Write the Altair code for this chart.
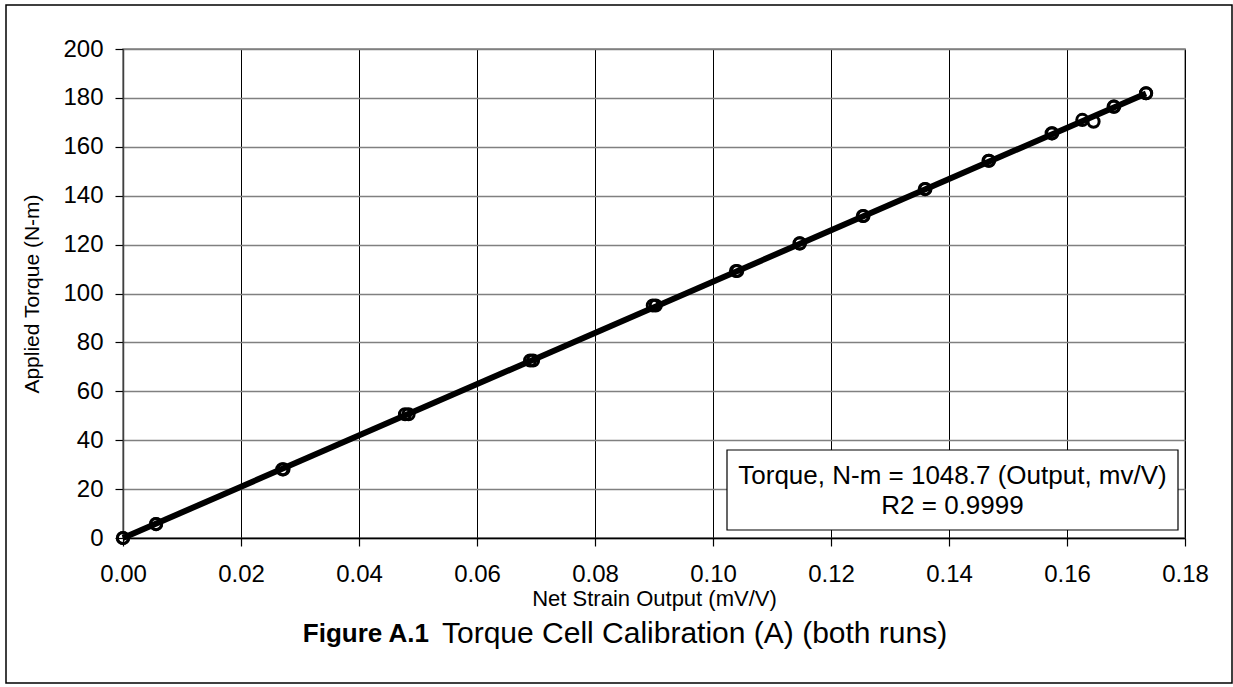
import altair as alt
import pandas as pd

# Run A (net strain output mV/V, applied torque N-m)
run_a_x = [0.0, 0.0056, 0.0270, 0.0478, 0.0690, 0.0898, 0.1039, 0.1147, 0.1254, 0.1359, 0.1467, 0.1574, 0.1626, 0.1679, 0.1734]
run_a_y = [0.0, 5.7, 28.1, 50.6, 72.6, 95.1, 109.2, 120.5, 131.7, 142.7, 154.3, 165.5, 171.0, 176.4, 181.9]
# Run B
run_b_x = [0.0, 0.0056, 0.0272, 0.0484, 0.0695, 0.0903, 0.1041, 0.1147, 0.1255, 0.1360, 0.1468, 0.1575, 0.1645, 0.1680, 0.1734]
run_b_y = [0.0, 5.7, 28.1, 50.6, 72.6, 95.1, 109.2, 120.5, 131.7, 142.7, 154.3, 165.5, 170.3, 176.4, 181.9]
# Linear trendline (Torque = 1048.7 * Output)
trend_x = [0.0, 0.1734]
trend_y = [0.0, 181.85]

x_ticks = [0.0, 0.02, 0.04, 0.06, 0.08, 0.10, 0.12, 0.14, 0.16, 0.18]
y_ticks = [0, 20, 40, 60, 80, 100, 120, 140, 160, 180, 200]

FONT = "Liberation Sans"

pts = pd.DataFrame({
    "x": run_a_x + run_b_x,
    "y": run_a_y + run_b_y,
    "run": ["A"] * len(run_a_x) + ["B"] * len(run_b_x),
})
trend = pd.DataFrame({"x": trend_x, "y": trend_y})
one = pd.DataFrame({"k": [0]})

xs = alt.Scale(domain=[0, 0.18], nice=False, zero=False)
ys = alt.Scale(domain=[0, 200], nice=False)

x_axis = alt.Axis(
    values=x_ticks, format=".2f", title="Net Strain Output (mV/V)",
    grid=True, gridColor="#000000", gridWidth=1, gridOpacity=1,
    domainColor="#000000", domainWidth=1.5, tickColor="#000000", tickSize=8, tickWidth=1.2,
    labelFont=FONT, labelFontSize=24, labelColor="#000000", labelPadding=16, labelFlush=False,
    labelOverlap=False,
    titleFont=FONT, titleFontSize=22, titleFontWeight="normal", titleColor="#000000",
    titleY=60, titleBaseline="middle",
)
y_axis = alt.Axis(
    values=y_ticks, format="d", title="Applied Torque (N-m)",
    grid=True, gridColor="#808080", gridWidth=1.5, gridOpacity=1,
    domainColor="#404040", domainWidth=1.5, tickColor="#000000", tickSize=8, tickWidth=1.2,
    labelFont=FONT, labelFontSize=24, labelColor="#000000", labelPadding=12, labelFlush=False,
    labelOverlap=False,
    titleFont=FONT, titleFontSize=21, titleFontWeight="normal", titleColor="#000000",
    titleX=-91, titleY=244.5, titleBaseline="middle", titleAngle=-90,
)

border = alt.Chart(one).mark_rect(fill="white", fillOpacity=0, stroke="#000000", strokeWidth=1.5).encode(
    x=alt.value(-117), x2=alt.value(1109), y=alt.value(-44), y2=alt.value(634)
)

line = alt.Chart(trend).mark_line(color="#000000", strokeWidth=6).encode(
    x=alt.X("x:Q", scale=xs, axis=x_axis),
    y=alt.Y("y:Q", scale=ys, axis=y_axis),
)

points = alt.Chart(pts).mark_point(shape="circle", filled=False, color="#000000", size=125, strokeWidth=3, opacity=1).encode(
    x=alt.X("x:Q", scale=xs),
    y=alt.Y("y:Q", scale=ys),
)

box = alt.Chart(one).mark_rect(fill="white", stroke="#000000", strokeWidth=1.2).encode(
    x=alt.value(604), x2=alt.value(1055), y=alt.value(401), y2=alt.value(481)
)
eq1 = alt.Chart(one).mark_text(text="Torque, N-m = 1048.7 (Output, mv/V)", font=FONT, fontSize=26, color="#000000", align="center", baseline="middle").encode(
    x=alt.value(829.5), y=alt.value(427)
)
eq2 = alt.Chart(one).mark_text(text="R2 = 0.9999", font=FONT, fontSize=26, color="#000000", align="center", baseline="middle").encode(
    x=alt.value(829.5), y=alt.value(457)
)

title_bold = alt.Chart(one).mark_text(text="Figure A.1", font=FONT, fontSize=26, fontWeight="bold", color="#000000", align="right", baseline="middle").encode(
    x=alt.value(306), y=alt.value(585)
)
title_rest = alt.Chart(one).mark_text(text="Torque Cell Calibration (A) (both runs)", font=FONT, fontSize=30, color="#000000", align="left", baseline="middle").encode(
    x=alt.value(319), y=alt.value(585)
)

chart = alt.layer(border, line, points, box, eq1, eq2, title_bold, title_rest).properties(
    width=1062, height=489,
    padding={"left": 123, "top": 49, "right": 48, "bottom": 149},
    autosize=alt.AutoSizeParams(type="none"),
    background="white",
).configure_view(stroke="#808080", strokeWidth=1.5)

chart.save("out.html", embed_options={"renderer": "svg", "actions": False})
